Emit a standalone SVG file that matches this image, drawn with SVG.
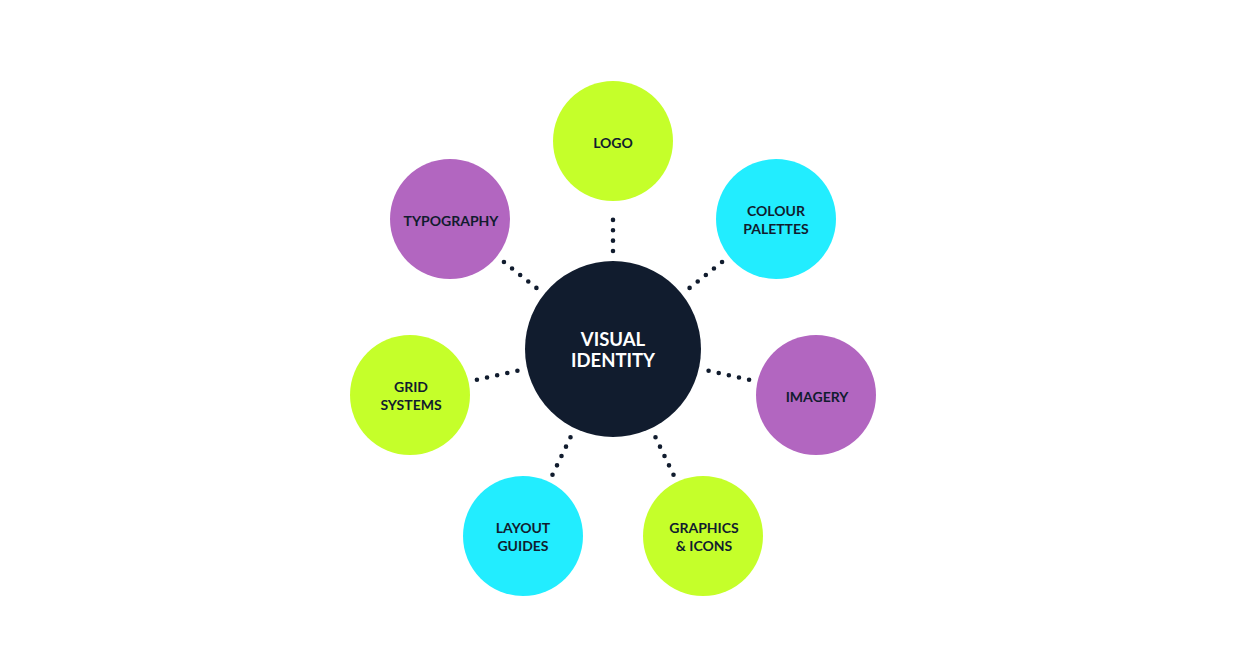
<svg xmlns="http://www.w3.org/2000/svg" width="1240" height="672" viewBox="0 0 1240 672">
<style>
.lime{fill:#C5FF2A}.cyan{fill:#22EDFF}.purple{fill:#B266C0}
.lbl{font-family:Lato,"Noto Sans",sans-serif;font-weight:700;font-size:14px;fill:#111C2E;text-anchor:middle;dominant-baseline:central}
.ctr{font-family:Lato,"Noto Sans",sans-serif;font-weight:700;font-size:18.5px;fill:#FFFFFF;text-anchor:middle;dominant-baseline:central}
.dot{stroke:#111C2E;stroke-width:4.6;stroke-linecap:round;stroke-dasharray:0 10.375;fill:none}
</style>
<rect width="1240" height="672" fill="#FFFFFF"/>
<g id="connectors">
<line class="dot" x1="613" y1="251" x2="613" y2="209.5"/>
<line class="dot" x1="536.4" y1="287.9" x2="503.9" y2="262"/>
<line class="dot" x1="689.6" y1="287.9" x2="722.1" y2="262"/>
<line class="dot" x1="517.4" y1="370.7" x2="476.9" y2="379.8"/>
<line class="dot" x1="708.6" y1="370.7" x2="749.1" y2="379.8"/>
<line class="dot" x1="570.5" y1="437.3" x2="552.5" y2="474.7"/>
<line class="dot" x1="655.5" y1="437.3" x2="673.5" y2="474.7"/>
</g>
<g id="center">
<circle cx="613" cy="349" r="88" fill="#111C2E"/>
<text class="ctr" x="613" y="339">VISUAL</text>
<text class="ctr" x="613" y="360">IDENTITY</text>
</g>
<g id="logo">
<circle class="lime" cx="613" cy="141" r="60"/>
<text class="lbl" x="613" y="142">LOGO</text>
</g>
<g id="colour-palettes">
<circle class="cyan" cx="776" cy="219" r="60"/>
<text class="lbl" x="776" y="210">COLOUR</text>
<text class="lbl" x="776" y="228">PALETTES</text>
</g>
<g id="typography">
<circle class="purple" cx="450" cy="219" r="60"/>
<text class="lbl" x="451" y="220">TYPOGRAPHY</text>
</g>
<g id="grid-systems">
<circle class="lime" cx="410" cy="395" r="60"/>
<text class="lbl" x="411" y="386">GRID</text>
<text class="lbl" x="411" y="404">SYSTEMS</text>
</g>
<g id="imagery">
<circle class="purple" cx="816" cy="395" r="60"/>
<text class="lbl" x="817" y="396">IMAGERY</text>
</g>
<g id="layout-guides">
<circle class="cyan" cx="523" cy="536" r="60"/>
<text class="lbl" x="523" y="527">LAYOUT</text>
<text class="lbl" x="523" y="545">GUIDES</text>
</g>
<g id="graphics-icons">
<circle class="lime" cx="703" cy="536" r="60"/>
<text class="lbl" x="704" y="527">GRAPHICS</text>
<text class="lbl" x="704" y="545">&amp; ICONS</text>
</g>
</svg>
